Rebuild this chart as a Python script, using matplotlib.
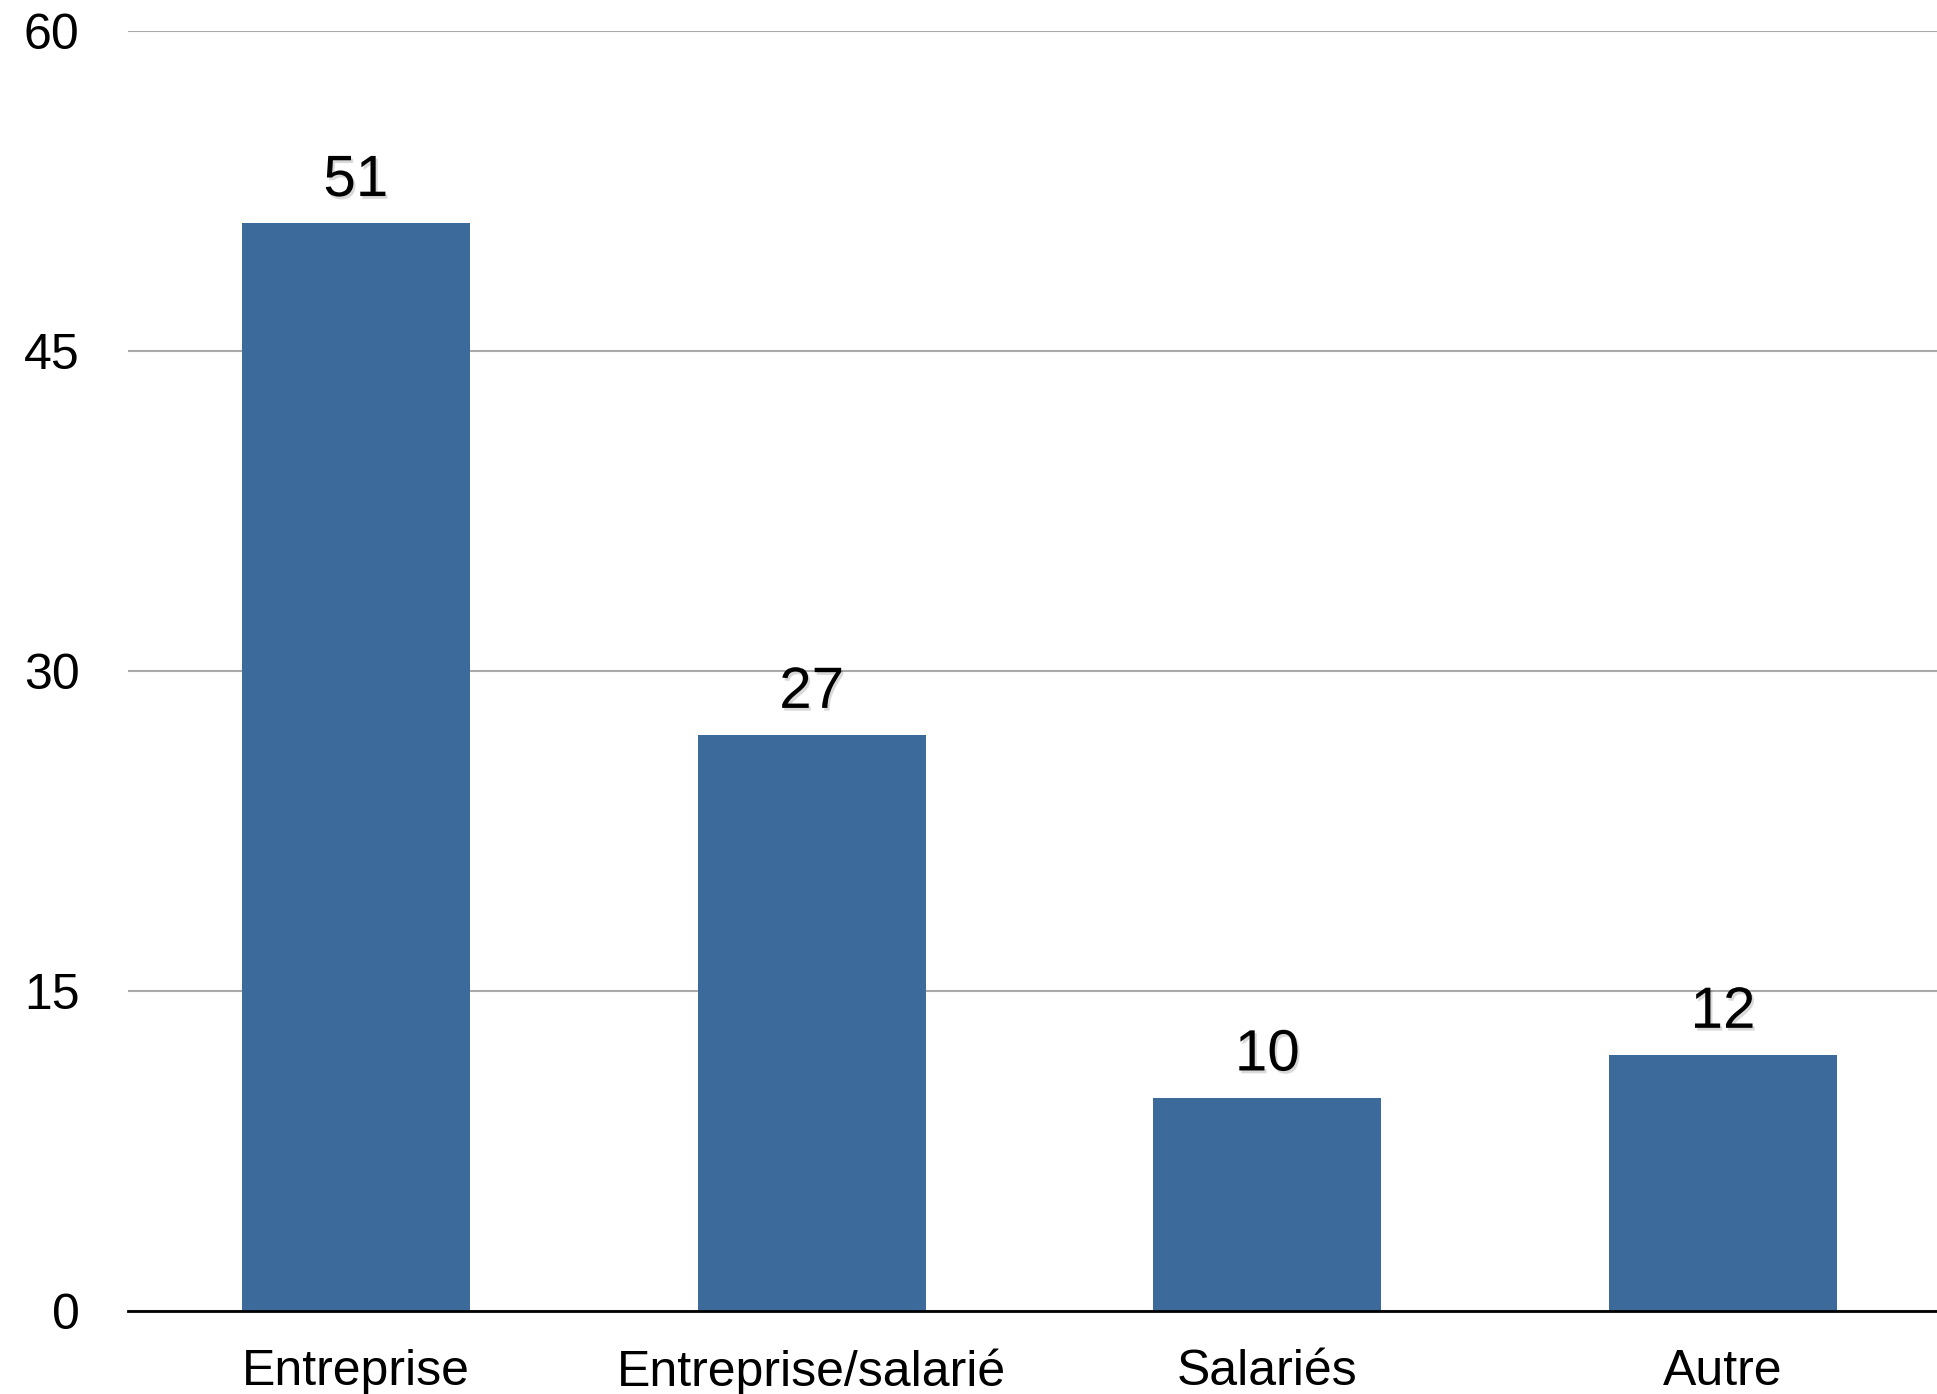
import matplotlib
matplotlib.use("Agg")
from matplotlib import pyplot as plt
import matplotlib.patheffects as pe

# data
categories = ["Entreprise", "Entreprise/salarié", "Salariés", "Autre"]
values = [51, 27, 10, 12]
yticks = [0, 15, 30, 45, 60]

plt.rcParams['font.family'] = ['Liberation Sans', 'DejaVu Sans']

fig = plt.figure(figsize=(19.37, 13.94), dpi=100)
ax = fig.add_axes([0.0661, 0.0595, 0.934, 0.918])

x = range(len(categories))
bars = ax.bar(x, values, width=0.5, color='#3c6b9b', zorder=2)

# value labels above bars, with a light shadow
for b, v in zip(bars, values):
    ax.annotate(str(v), (b.get_x() + b.get_width() / 2, v),
                xytext=(0, 11), textcoords='offset points',
                ha='center', va='bottom', fontsize=42, color='black',
                path_effects=[pe.withSimplePatchShadow(offset=(1.5, -2),
                                                       shadow_rgbFace='black',
                                                       alpha=0.15)])

ax.set_ylim(0, 60)
ax.set_xlim(-0.5, 3.47)
ax.set_yticks(yticks)
ax.set_yticklabels([str(t) for t in yticks], fontsize=36)
ax.set_xticks(list(x))
ax.set_xticklabels(categories, fontsize=36)
ax.tick_params(axis='y', length=0, pad=35)
ax.tick_params(axis='x', length=0, pad=27)

ax.grid(axis='y', color='#aaaaaa', linewidth=1.5, zorder=0)
ax.set_axisbelow(True)
for s in ['left', 'top', 'right']:
    ax.spines[s].set_visible(False)
ax.spines['bottom'].set_color('black')
ax.spines['bottom'].set_linewidth(2)
ax.spines['bottom'].set_zorder(3)

fig.savefig('out.png', dpi=100)
